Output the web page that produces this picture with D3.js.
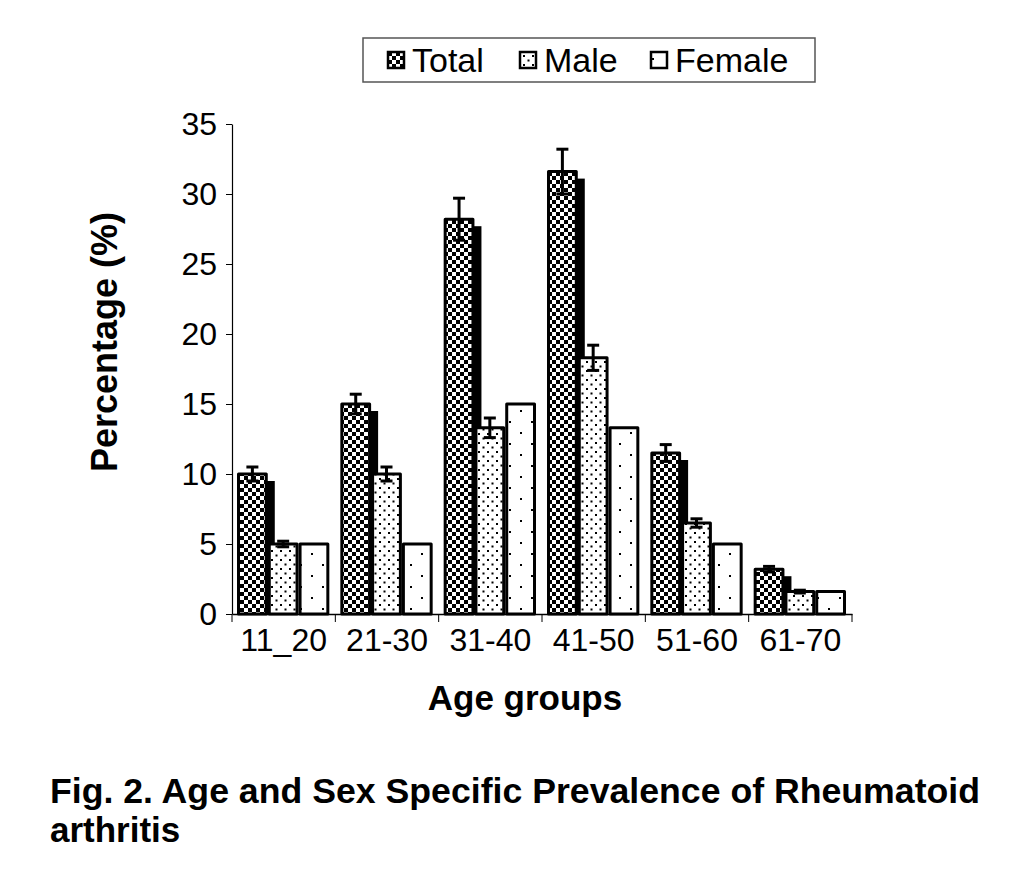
<!DOCTYPE html><html><head><meta charset="utf-8"><script src="https://cdn.jsdelivr.net/npm/d3@7"></script>
<style>body{margin:0;background:#fff}text{font-family:"Liberation Sans",Arial,sans-serif}</style></head><body><svg id="c" width="1024" height="888"></svg>
<script>
const categories=["11_20","21-30","31-40","41-50","51-60","61-70"];
const seriesNames=["Total","Male","Female"];
const totalVals=[10,15,28.2,31.6,11.5,3.2];
const maleVals=[5,10,13.3,18.3,6.5,1.6];
const femaleVals=[5,5,15,13.3,5,1.6];
const totalErr=[0.5,0.7,1.5,1.6,0.6,0.2];
const maleErr=[0.2,0.5,0.7,0.9,0.3,0.1];
const yTicks=[0,5,10,15,20,25,30,35];

const svg=d3.select("#c");
const defs=svg.append("defs");
let p=defs.append("pattern").attr("id","pT").attr("width",8).attr("height",8).attr("patternUnits","userSpaceOnUse");
p.append("rect").attr("width",8).attr("height",8).attr("fill","#fff");
p.append("rect").attr("width",4).attr("height",4).attr("fill","#000");
p.append("rect").attr("x",4).attr("y",4).attr("width",4).attr("height",4).attr("fill","#000");
p=defs.append("pattern").attr("id","pM").attr("width",9).attr("height",9).attr("patternUnits","userSpaceOnUse");
p.append("rect").attr("width",9).attr("height",9).attr("fill","#fff");
p.append("rect").attr("x",1).attr("y",1).attr("width",2).attr("height",2).attr("fill","#000");
p.append("rect").attr("x",5.5).attr("y",5.5).attr("width",2).attr("height",2).attr("fill","#000");
p=defs.append("pattern").attr("id","pF").attr("width",22).attr("height",22).attr("patternUnits","userSpaceOnUse");
p.append("rect").attr("width",22).attr("height",22).attr("fill","#fff");
p.append("rect").attr("x",3).attr("y",3).attr("width",2).attr("height",2).attr("fill","#000");
p.append("rect").attr("x",14).attr("y",14).attr("width",2).attr("height",2).attr("fill","#000");
const fills=["url(#pT)","url(#pM)","url(#pF)"];

const x0=232,x1=852,yB=614,yT=124;
const y=d3.scaleLinear().domain([0,35]).range([yB,yT]);
const x=d3.scaleBand().domain(categories).range([x0,x1]);
const xs=d3.scaleBand().domain(seriesNames).range([5,x.bandwidth()-6]);
const data=categories.map((c,i)=>({c,v:[totalVals[i],maleVals[i],femaleVals[i]],e:[totalErr[i],maleErr[i],null]}));

const g=svg.append("g");
g.selectAll(".sh").data(data).join("rect").attr("x",d=>x(d.c)+xs("Total")+7).attr("y",d=>y(d.v[0])+7)
 .attr("width",xs.bandwidth()).attr("height",d=>yB-y(d.v[0])-7).attr("fill","#000");
data.forEach(d=>{
 seriesNames.forEach((s,j)=>{
  g.append("rect").attr("x",x(d.c)+xs(s)+1.5).attr("y",y(d.v[j])).attr("width",xs.bandwidth()-3).attr("height",yB-y(d.v[j]))
   .attr("fill",fills[j]).attr("stroke","#000").attr("stroke-width",3).attr("stroke-linejoin","round");
  if(d.e[j]!=null){const cx=x(d.c)+xs(s)+xs.bandwidth()/2;
   g.append("line").attr("x1",cx).attr("x2",cx).attr("y1",y(d.v[j]-d.e[j])).attr("y2",y(d.v[j]+d.e[j])).attr("stroke","#000").attr("stroke-width",3);
   [d.v[j]+d.e[j],d.v[j]-d.e[j]].forEach(v=>g.append("line").attr("x1",cx-6).attr("x2",cx+6).attr("y1",y(v)).attr("y2",y(v)).attr("stroke","#000").attr("stroke-width",3));}
 });
});
const ya=svg.append("g").attr("transform",`translate(${x0},0)`).call(d3.axisLeft(y).tickValues(yTicks).tickSize(6).tickSizeOuter(0));
ya.selectAll("text").attr("font-size",32).attr("fill","#000").attr("dx",-6);
ya.select(".domain").attr("stroke-width",1.2);
const xa=svg.append("g").attr("transform",`translate(0,${yB})`).call(d3.axisBottom(x).tickSize(0).tickSizeOuter(0));
xa.selectAll("text").attr("font-size",32).attr("fill","#000").attr("dy",34);
xa.select(".domain").attr("stroke-width",1.5);
svg.append("g").selectAll("line").data(d3.range(categories.length+1)).join("line")
 .attr("x1",i=>x0+i*x.step()).attr("x2",i=>x0+i*x.step()).attr("y1",yB).attr("y2",yB+8).attr("stroke","#000");
svg.append("text").attr("transform","translate(117,342) rotate(-90)").attr("text-anchor","middle").attr("font-size",36).attr("font-weight","bold").text("Percentage (%)");
svg.append("text").attr("x",525).attr("y",710).attr("text-anchor","middle").attr("font-size",35).attr("font-weight","bold").text("Age groups");
svg.append("rect").attr("x",363).attr("y",38).attr("width",452).attr("height",44).attr("fill","#fff").attr("stroke","#555").attr("stroke-width",1.5);
const lx=[388,520,651];
seriesNames.forEach((s,j)=>{
 svg.append("rect").attr("x",lx[j]).attr("y",52).attr("width",16).attr("height",16).attr("fill",fills[j]).attr("stroke","#000").attr("stroke-width",2.5);
 svg.append("text").attr("x",lx[j]+24).attr("y",72).attr("font-size",34).text(s);
});
svg.append("text").attr("x",50).attr("y",803).attr("font-size",35).attr("font-weight","bold").attr("textLength",930).attr("lengthAdjust","spacingAndGlyphs").text("Fig. 2. Age and Sex Specific Prevalence of Rheumatoid");
svg.append("text").attr("x",50).attr("y",842).attr("font-size",35).attr("font-weight","bold").text("arthritis");
</script></body></html>
